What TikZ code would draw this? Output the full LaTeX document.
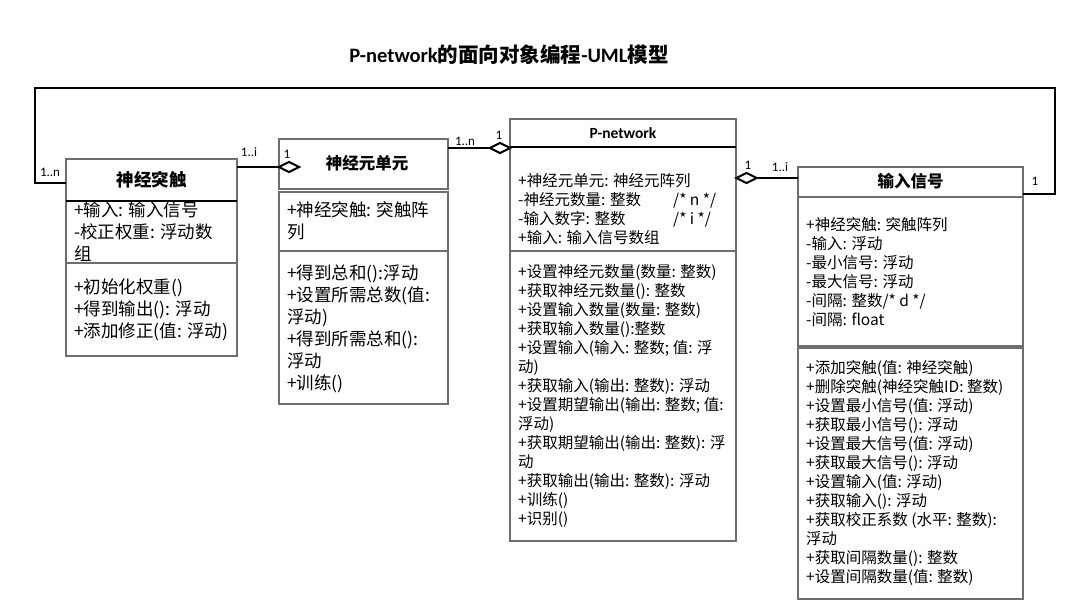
\documentclass[tikz,border=0pt]{standalone}
\usepackage{fontspec}
\setmainfont{Noto Sans CJK SC}
\newfontfamily\latf{Carlito}
\usetikzlibrary{shapes.geometric}
\definecolor{boxgray}{HTML}{6E6E6E}
\tikzset{
  cbox/.style={draw=boxgray, line width=1.2pt, inner sep=0pt, outer sep=0pt, anchor=north west},
  hdr/.style={font=\bfseries\fontsize{16.5}{20}\selectfont},
  txtL/.style={anchor=west, align=left, inner sep=0pt, font=\fontsize{17.5}{22}\selectfont},
  txtR/.style={anchor=west, align=left, inner sep=0pt, font=\fontsize{15.5}{19}\selectfont},
  mult/.style={inner sep=0pt, font=\latf\fontsize{13}{13}\selectfont},
  agg/.style={diamond, draw=black, fill=white, line width=2pt, inner sep=0pt, aspect=1.9, minimum width=21pt, minimum height=11pt},
  conn/.style={draw=black, line width=1.8pt},
  hline/.style={draw=black, line width=1.6pt}
}
\begin{document}
\begin{tikzpicture}[x=1pt,y=-1pt]
\useasboundingbox (0,0) rectangle (1080,610);
\fill[white] (0,0) rectangle (1080,610);

\node (title) at (509,55) {\fontsize{20.5}{24}\selectfont\bfseries{\latf P-network}的面向对象编程{\latf -UML}模型};

% Class A: 神经突触
\node[cbox, minimum width=171pt, minimum height=42pt] (Ah) at (66,159) {};
\node[cbox, minimum width=171pt, minimum height=62pt] (Aa) at (66,201) {};
\node[cbox, minimum width=171pt, minimum height=93pt] (Am) at (66,263) {};
\draw[hline] (Ah.south west) -- (Ah.south east);
\node[hdr, font=\bfseries\fontsize{17.5}{20}\selectfont] (Aht) at (151.5,180) {神经突触};
\node[txtL] (Aat) at (74,232) {+输入: 输入信号\\-校正权重: 浮动数\\组};
\node[txtL] (Amt) at (74,310) {+初始化权重()\\+得到输出(): 浮动\\+添加修正(值: 浮动)};

% Class B: 神经元单元
\node[cbox, minimum width=169pt, minimum height=50pt] (Bh) at (279,139) {};
\node[cbox, minimum width=169pt, minimum height=59pt] (Ba) at (279,192) {};
\node[cbox, minimum width=169pt, minimum height=153pt] (Bm) at (279,251) {};
\node[hdr] (Bht) at (367,163) {神经元单元};
\node[txtL] (Bat) at (287,221) {+神经突触: 突触阵\\列};
\node[txtL] (Bmt) at (287,329) {+得到总和():浮动\\+设置所需总数(值:\\浮动)\\+得到所需总和():\\浮动\\+训练()};

% Class C: P-network
\node[cbox, minimum width=226pt, minimum height=28pt] (Ch) at (510,119) {};
\node[cbox, minimum width=226pt, minimum height=104pt] (Ca) at (510,147) {};
\node[cbox, minimum width=226pt, minimum height=290pt] (Cm) at (510,251) {};
\draw[hline] (Ch.south west) -- (Ch.south east);
\node[font=\latf\bfseries\fontsize{15.5}{18}\selectfont] (Cht) at (623,133) {P-network};
\node[txtR] (Cat) at (518,209) {+神经元单元: 神经元阵列\\\makebox[155pt][l]{-神经元数量: 整数}/* n */\\\makebox[155pt][l]{-输入数字: 整数}/* i */\\+输入: 输入信号数组};
\node[txtR] (Cmt) at (518,396) {+设置神经元数量(数量: 整数)\\+获取神经元数量(): 整数\\+设置输入数量(数量: 整数)\\+获取输入数量():整数\\+设置输入(输入: 整数; 值: 浮\\动)\\+获取输入(输出: 整数): 浮动\\+设置期望输出(输出: 整数; 值:\\浮动)\\+获取期望输出(输出: 整数): 浮\\动\\+获取输出(输出: 整数): 浮动\\+训练()\\+识别()};

% Class D: 输入信号
\node[cbox, minimum width=225pt, minimum height=30pt] (Dh) at (798,167) {};
\node[cbox, minimum width=225pt, minimum height=149pt] (Da) at (798,197) {};
\node[cbox, minimum width=225pt, minimum height=251pt] (Dm) at (798,348) {};
\node[hdr] (Dht) at (910.5,181) {输入信号};
\node[txtR] (Dat) at (806,272) {+神经突触: 突触阵列\\-输入: 浮动\\-最小信号: 浮动\\-最大信号: 浮动\\-间隔: 整数/* d */\\-间隔: float};
\node[txtR] (Dmt) at (806,473) {+添加突触(值: 神经突触)\\+删除突触(神经突触ID: 整数)\\+设置最小信号(值: 浮动)\\+获取最小信号(): 浮动\\+设置最大信号(值: 浮动)\\+获取最大信号(): 浮动\\+设置输入(值: 浮动)\\+获取输入(): 浮动\\+获取校正系数 (水平: 整数):\\浮动\\+获取间隔数量(): 整数\\+设置间隔数量(值: 整数)};

% Aggregation diamonds
\node[agg] (dB) at (289,167) {};
\node[agg] (dC) at (500,148) {};
\node[agg] (dD) at (746.5,178) {};

% Connectors
\draw[conn] (dB.west -| Ah.east) -- (dB.west);
\draw[conn] (dC.west -| Bh.east) -- (dC.west);
\draw[conn] (dD.east) -- (dD.east -| Dh.west);
\coordinate (lpL) at (35,88);
\coordinate (lpR) at (1055,194);
\draw[conn] ([yshift=-3pt]Ah.west) -| (lpL) -| (lpR) -- ([yshift=3pt]Dh.south east);

% Multiplicities
\node[mult] (m1) at (50,172) {1..n};
\node[mult] (m2) at (249,152) {1..i};
\node[mult] (m3) at (287,154) {1};
\node[mult] (m4) at (465,141) {1..n};
\node[mult] (m5) at (499,135) {1};
\node[mult] (m6) at (748,165) {1};
\node[mult] (m7) at (780,167) {1..i};
\node[mult] (m8) at (1035,181) {1};
\end{tikzpicture}
\end{document}
